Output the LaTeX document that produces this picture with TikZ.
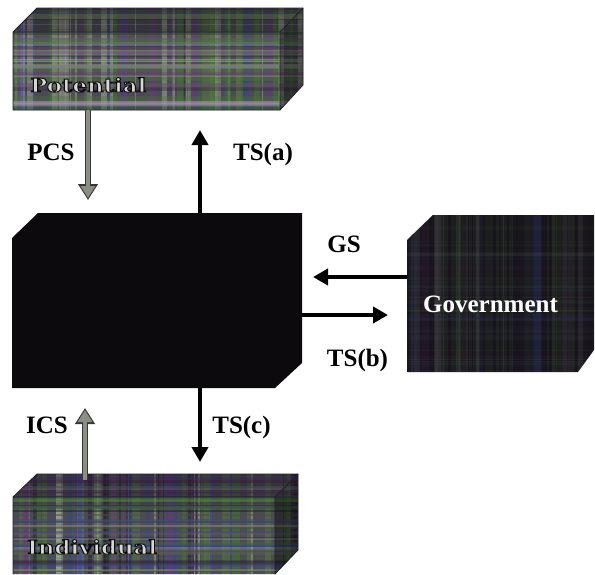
\documentclass[tikz,border=0pt]{standalone}
\usepackage{fontspec}
\setmainfont{Liberation Serif}
\newfontfamily\slabfont{DejaVu Serif}
\usetikzlibrary{arrows.meta}
\definecolor{pc1}{RGB}{70,120,50}
\definecolor{pc2}{RGB}{110,55,125}
\definecolor{pc3}{RGB}{170,172,165}
\definecolor{pc4}{RGB}{55,70,140}
\definecolor{pc5}{RGB}{35,30,45}
\definecolor{pc6}{RGB}{90,120,70}
\definecolor{boxbase}{RGB}{76,74,84}
\definecolor{govbase}{RGB}{24,20,27}
\definecolor{ctrbase}{RGB}{12,10,12}
\definecolor{arrowgray}{RGB}{138,143,132}
\definecolor{arrowedge}{RGB}{55,55,55}
\definecolor{embosslight}{RGB}{215,215,210}
\newcommand{\plaid}[6]{%
  \foreach \k in {1,...,#5}{%
    \pgfmathsetmacro{\plx}{#1+rnd*(#3-#1)}%
    \pgfmathsetmacro{\plw}{1+rnd*7}%
    \pgfmathrandominteger{\plc}{1}{6}%
    \fill[pc\plc,opacity=#6] (\plx,#2) rectangle ++(\plw,#4-#2);}%
  \foreach \k in {1,...,#5}{%
    \pgfmathsetmacro{\ply}{#2+rnd*(#4-#2)}%
    \pgfmathsetmacro{\plh}{1+rnd*3}%
    \pgfmathrandominteger{\plc}{1}{6}%
    \fill[pc\plc,opacity=#6*0.6] (#1,\ply) rectangle ++(#3-#1,\plh);}%
}
% outlined (fill + dark stroke) text
\newcommand{\outlined}[1]{\special{pdf:literal direct 2 Tr 0.9 w 0.05 0.05 0.05 RG}#1\special{pdf:literal direct 0 Tr}}
\tikzset{
  frame/.style={inner sep=0pt, outer sep=0pt, draw=none},
  lbl/.style={font=\bfseries\fontsize{25}{28}\selectfont, anchor=base, inner sep=0pt},
  embt/.style={font=\slabfont\bfseries\fontsize{19}{22}\selectfont, xscale=1.2, anchor=base west, inner sep=0pt, text=embosslight},
  blackarrow/.style={line width=4pt, draw=black, -{Triangle[width=16pt,length=15pt]}},
  grayout/.style={line width=6.5pt, draw=arrowedge, -{Triangle[width=19pt,length=16pt]}},
  grayin/.style={line width=3.5pt, draw=arrowgray, -{Triangle[width=14pt,length=12pt]}},
  edge/.style={draw=pc5, line width=0.8pt}
}
\begin{document}
\begin{tikzpicture}[x=1pt,y=-1pt]
\pgfmathsetseed{11}
\useasboundingbox (0,0) rectangle (595,574);
\fill[white] (0,0) rectangle (595,574);

% ---------- Potential box ----------
\fill[boxbase] (13,32) -- (37,8) -- (303,8) -- (303,85) -- (280,110) -- (13,110) -- cycle;
\begin{scope}
  \clip (13,32) -- (37,8) -- (303,8) -- (303,85) -- (280,110) -- (13,110) -- cycle;
  \plaid{13}{8}{303}{110}{70}{0.5}
\end{scope}
\fill[black,opacity=.3] (13,32) -- (37,8) -- (303,8) -- (280,32) -- cycle;
\fill[black,opacity=.4] (280,32) -- (303,8) -- (303,85) -- (280,110) -- cycle;
\draw[edge] (13,32) -- (37,8) -- (303,8) -- (303,85) -- (280,110) -- (13,110) -- cycle;
\draw[edge] (13,32) -- (280,32) -- (280,110) (280,32) -- (303,8);
\node[frame, minimum width=290pt, minimum height=102pt] (pot) at (158,59) {};
\node[embt] (pottext) at (30,92) {\outlined{Potential}};

% ---------- Central box ----------
\fill[ctrbase] (12,238) -- (38,213) -- (302,213) -- (302,363) -- (275,388) -- (12,388) -- cycle;
\node[frame, minimum width=290pt, minimum height=175pt] (ctr) at (157,300.5) {};

% ---------- Government box ----------
\fill[govbase] (407,240) -- (433,215) -- (594,215) -- (594,350) -- (578,372) -- (407,372) -- cycle;
\begin{scope}
  \clip (407,240) -- (433,215) -- (594,215) -- (594,350) -- (578,372) -- (407,372) -- cycle;
  \plaid{407}{215}{594}{372}{50}{0.10}
\end{scope}
\node[frame, minimum width=187pt, minimum height=157pt] (gov) at (500.5,293.5) {};
\node[lbl, text=white] (govtext) at (490.5,312) {Government};

% ---------- Individual box ----------
\fill[boxbase] (13,497) -- (37,474) -- (298,474) -- (298,550) -- (275,574) -- (13,574) -- cycle;
\begin{scope}
  \clip (13,497) -- (37,474) -- (298,474) -- (298,550) -- (275,574) -- (13,574) -- cycle;
  \plaid{13}{474}{298}{574}{70}{0.5}
\end{scope}
\fill[black,opacity=.3] (13,497) -- (37,474) -- (298,474) -- (275,497) -- cycle;
\fill[black,opacity=.4] (275,497) -- (298,474) -- (298,550) -- (275,574) -- cycle;
\draw[edge] (13,574) -- (13,497) -- (37,474) -- (298,474) -- (298,550) -- (275,574);
\draw[edge] (13,497) -- (275,497) -- (275,574) (275,497) -- (298,474);
\node[frame, minimum width=285pt, minimum height=100pt] (ind) at (155.5,524) {};
\node[embt] (indtext) at (27,554) {\outlined{Individual}};

% ---------- Connectors ----------
\coordinate (xpcs) at (88,0);
\coordinate (xmid) at (200,0);
\coordinate (xics) at (85,0);
\coordinate (ygs) at (0,277);
\coordinate (ytsb) at (0,315);

\draw[grayout, shorten >=13pt] (pot.south -| xpcs) -- (ctr.north -| xpcs);
\draw[grayin, shorten >=15pt] (pot.south -| xpcs) -- (ctr.north -| xpcs);
\draw[blackarrow, shorten >=20pt] (ctr.north -| xmid) -- (pot.south -| xmid);
\draw[blackarrow, shorten >=11pt] (gov.west |- ygs) -- (ctr.east |- ygs);
\draw[blackarrow, shorten >=19pt] (ctr.east |- ytsb) -- (gov.west |- ytsb);
\draw[blackarrow, shorten >=12pt] (ctr.south -| xmid) -- (ind.north -| xmid);
\draw[grayout, shorten <=-6pt, shorten >=20pt] (ind.north -| xics) -- (ctr.south -| xics);
\draw[grayin, shorten <=-6pt, shorten >=22pt] (ind.north -| xics) -- (ctr.south -| xics);

% ---------- Labels ----------
\node[lbl] (lpcs) at (51,160) {PCS};
\node[lbl] (ltsa) at (263,160) {TS(a)};
\node[lbl] (lgs) at (344,252) {GS};
\node[lbl] (ltsb) at (357.5,366) {TS(b)};
\node[lbl] (ltsc) at (241.5,433) {TS(c)};
\node[lbl] (lics) at (47,433) {ICS};
\end{tikzpicture}
\end{document}
